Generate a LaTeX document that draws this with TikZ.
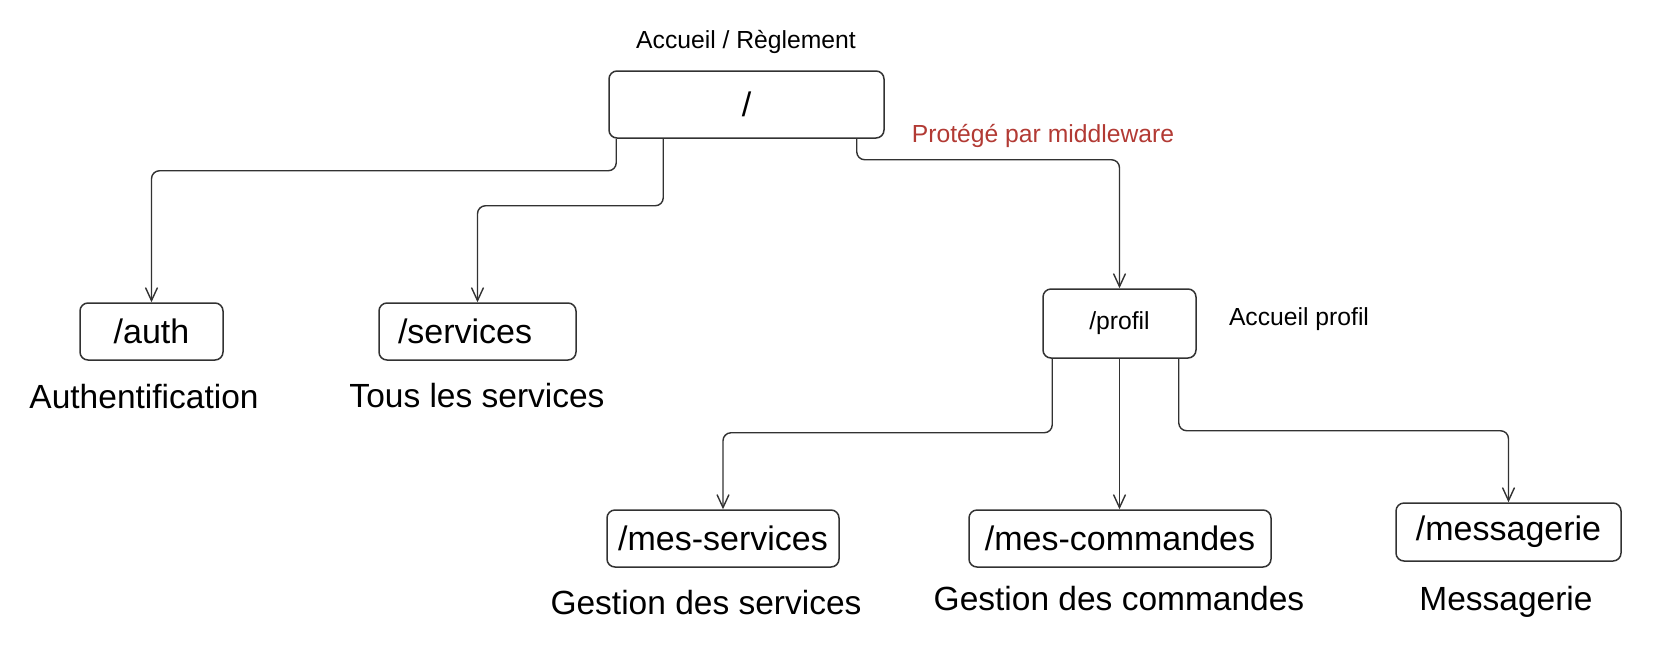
\documentclass[tikz,border=0pt]{standalone}
\usepackage{fontspec}
\setmainfont{Liberation Sans}
\usetikzlibrary{arrows.meta}
\definecolor{protred}{RGB}{178,58,52}
\definecolor{inkgray}{RGB}{50,50,50}
\tikzset{
  route/.style={draw=inkgray, line width=0.75pt, rounded corners=4pt, inner sep=0pt,
    font=\fontsize{17}{20}\selectfont},
  small/.style={font=\fontsize{12.35}{15}\selectfont},
  big/.style={font=\fontsize{16.75}{20}\selectfont},
  link/.style={draw=inkgray, line width=0.7pt, rounded corners=4pt,
    -{Straight Barb[length=6.5pt,width=6pt]}},
}
\begin{document}
\begin{tikzpicture}[x=0.5pt,y=-0.5pt]
\useasboundingbox (0,0) rectangle (1666,660);

% route boxes
\node [route, minimum width=137.5pt, minimum height=33.5pt] (root) at (746.5,104.5) {\raisebox{-2pt}{/}};
\node [route, minimum width=71.5pt, minimum height=28.5pt] (auth) at (151.5,331.5) {/auth};
\node [route, minimum width=98.5pt, minimum height=28.5pt, text width=79.5pt, align=left, inner xsep=9.5pt] (services) at (477.5,331.5) {/services};
\node [route, small, minimum width=76.5pt, minimum height=34.5pt] (profil) at (1119.5,323.5) {/profil};
\node [route, minimum width=116pt, minimum height=28.5pt] (messvc) at (723,538.5) {/mes-services};
\node [route, minimum width=151pt, minimum height=28.5pt] (mescmd) at (1120,538.5) {/mes-commandes};
\node [route, minimum width=112.5pt, minimum height=29pt] (messagerie) at (1508.5,532) {/messagerie};

% texts
\node [small] (rootlbl) at (746,42) {Accueil / Règlement};
\node [small, protred] (protlbl) at (1043,136) {Protégé par middleware};
\node [small] (profillbl) at (1299,319) {Accueil profil};
\node [big] (authlbl) at (144,397) {Authentification};
\node [big] (serviceslbl) at (477,396) {Tous les services};
\node [big] (messvclbl) at (706,603) {Gestion des services};
\node [big] (mescmdlbl) at (1119,599) {Gestion des commandes};
\node [big] (messagerielbl) at (1506,602) {Messagerie};

% links
\draw [link] ([xshift=4pt]root.south west) -- ++(0,32) -| (auth.north);
\draw [link] ([xshift=27.5pt]root.south west) -- ++(0,67) -| (services.north);
\draw [link] ([xshift=-14pt]root.south east) -- ++(0,21) -| (profil.north);
\draw [link] ([xshift=5pt]profil.south west) -- ++(0,74) -| (messvc.north);
\draw [link] (profil.south) -- (profil.south |- mescmd.north);
\draw [link] ([xshift=-9pt]profil.south east) -- ++(0,72) -| (messagerie.north);
\end{tikzpicture}
\end{document}
